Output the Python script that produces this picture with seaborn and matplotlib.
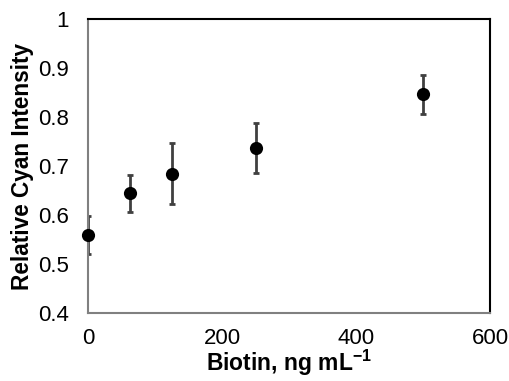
import numpy as np
import pandas as pd
import matplotlib
matplotlib.use("Agg")
import matplotlib.pyplot as plt
import seaborn as sns

# donnees
biotin = [0, 62.5, 125, 250, 500]
intensity = [0.559, 0.644, 0.684, 0.737, 0.846]
err = [0.039, 0.038, 0.062, 0.051, 0.040]

df = pd.DataFrame({"biotin": biotin, "intensity": intensity, "err": err})

sns.set_style("white")
plt.rcParams['font.family'] = ['Liberation Sans', 'DejaVu Sans']
plt.rcParams['mathtext.fontset'] = 'custom'
plt.rcParams['mathtext.rm'] = 'Liberation Sans:bold'
plt.rcParams['mathtext.bf'] = 'Liberation Sans:bold'

fig, ax = plt.subplots(figsize=(5.1, 3.81), dpi=100)
fig.subplots_adjust(left=88/510, right=490/510, top=1-19/381, bottom=1-313/381)

ax.errorbar(df["biotin"], df["intensity"], yerr=df["err"], fmt="none",
            ecolor="#404040", elinewidth=2, capsize=2.5, capthick=2, zorder=2)
sns.scatterplot(data=df, x="biotin", y="intensity", color="black", s=90,
                edgecolor="black", linewidth=0, ax=ax, zorder=3, clip_on=False)

ax.set_xlim(0, 600)
ax.set_ylim(0.4, 1.0)
ax.set_xticks([0, 200, 400, 600])
ax.set_yticks([0.4, 0.5, 0.6, 0.7, 0.8, 0.9, 1.0])
ax.set_yticklabels(["0.4", "0.5", "0.6", "0.7", "0.8", "0.9", "1"])
ax.tick_params(axis="both", labelsize=16, length=0, colors="black")
ax.tick_params(axis="y", pad=14)
ax.tick_params(axis="x", pad=11)

ax.set_xlabel("Biotin, ng mL$^{\u22121}$", fontsize=16.5, fontweight="bold",
              labelpad=-1, color="black")
ax.set_ylabel("Relative Cyan Intensity", fontsize=16.3, fontweight="bold",
              labelpad=3, color="black")

for side in ["left", "bottom"]:
    ax.spines[side].set_color("#808080")
    ax.spines[side].set_linewidth(1.5)
for side in ["top", "right"]:
    ax.spines[side].set_color("black")
    ax.spines[side].set_linewidth(1.5)

plt.savefig("out.png", dpi=100)
